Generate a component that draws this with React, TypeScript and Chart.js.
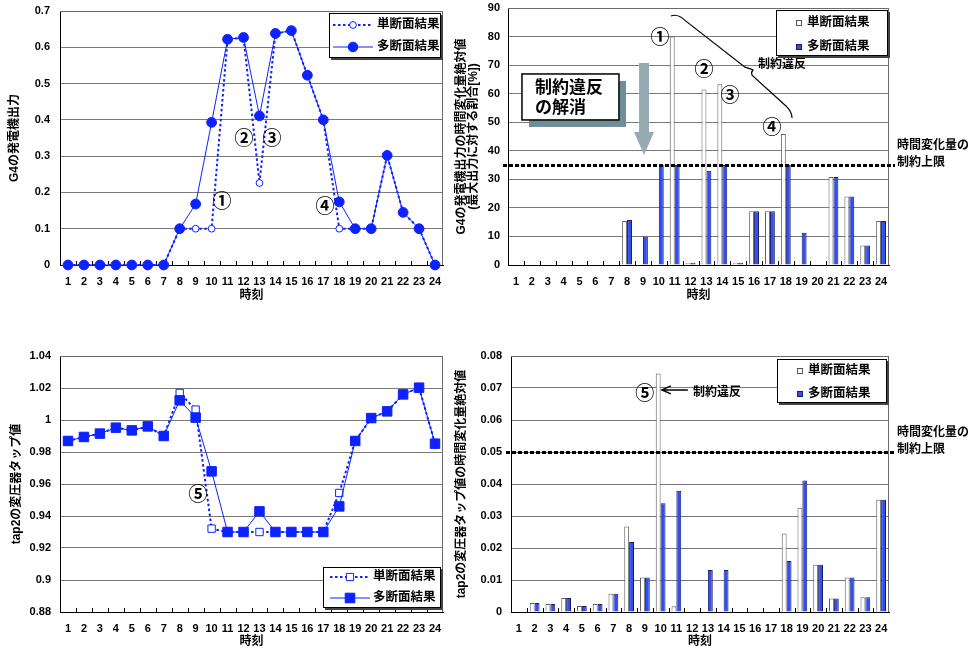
import React, { useEffect, useRef } from 'react';
import { Chart, registerables } from 'chart.js';

Chart.register(...registerables);

// ---------------- data ----------------
const hours = ['1', '2', '3', '4', '5', '6', '7', '8', '9', '10', '11', '12', '13', '14', '15', '16', '17', '18', '19', '20', '21', '22', '23', '24'];
const seriesLabels = ['単断面結果', '多断面結果'];

// G4 generator output
const g4Single = [0, 0, 0, 0, 0, 0, 0, 0.1, 0.1, 0.1, 0.622, 0.627, 0.226, 0.638, 0.646, 0.523, 0.4, 0.1, 0.1, 0.1, 0.302, 0.145, 0.1, 0];
const g4Multi = [0, 0, 0, 0, 0, 0, 0, 0.1, 0.168, 0.393, 0.622, 0.627, 0.411, 0.638, 0.646, 0.523, 0.4, 0.174, 0.1, 0.1, 0.302, 0.145, 0.1, 0];

// G4 hourly change (% of max output)
const g4ChangeSingle = [0, 0, 0, 0, 0, 0, 0, 15.4, 0, 0, 80, 0.8, 61.5, 63.3, 0.8, 18.8, 18.8, 45.9, 0, 0, 30.8, 24, 6.8, 15.4];
const g4ChangeMulti = [0, 0, 0, 0, 0, 0, 0, 15.8, 10, 35, 35, 0.8, 33, 35, 0.8, 18.8, 18.8, 35, 11.3, 0, 30.8, 24, 6.8, 15.4];

// tap2 transformer tap value
const tapSingle = [0.9869, 0.9894, 0.9915, 0.9952, 0.9935, 0.996, 0.990, 1.0169, 1.0065, 0.9321, 0.930, 0.930, 0.930, 0.930, 0.930, 0.930, 0.930, 0.9544, 0.9869, 1.0012, 1.0054, 1.016, 1.0202, 0.9852];
const tapMulti = [0.9869, 0.9894, 0.9915, 0.9952, 0.9935, 0.996, 0.990, 1.0123, 1.0015, 0.9679, 0.930, 0.930, 0.9429, 0.930, 0.930, 0.930, 0.930, 0.946, 0.9869, 1.0012, 1.0054, 1.016, 1.0202, 0.9852];

// tap2 hourly change
const tapChangeSingle = [0, 0.0028, 0.0025, 0.0044, 0.0019, 0.0025, 0.0057, 0.0267, 0.0108, 0.0745, 0.0018, 0, 0.0002, 0.0002, 0, 0, 0, 0.0245, 0.0326, 0.0148, 0.0042, 0.0108, 0.0046, 0.0351];
const tapChangeMulti = [0, 0.0028, 0.0025, 0.0044, 0.0019, 0.0025, 0.0057, 0.0219, 0.0108, 0.034, 0.0379, 0, 0.0131, 0.0131, 0, 0, 0, 0.0159, 0.0411, 0.0148, 0.0042, 0.0108, 0.0046, 0.0351];

const g4Limit = 35;
const tapLimit = 0.05;

const xTitle = '時刻';
const g4Title = 'G4の発電機出力';
const g4ChangeTitle = ['G4の発電機出力の時間変化量絶対値', '(最大出力に対する割合[%])'];
const tapTitle = 'tap2の変圧器タップ値';
const tapChangeTitle = 'tap2の変圧器タップ値の時間変化量絶対値';
const limitLabel = ['時間変化量の', '制約上限'];
const violationLabel = '制約違反';
const resolvedLabel = ['制約違反', 'の解消'];

// ---------------- styling ----------------
const FONT = "'Liberation Sans', 'Noto Sans CJK JP', sans-serif";
const CJK = "'Noto Sans CJK JP', 'Liberation Sans', sans-serif";
const BLUE = '#0d22ff';
const BAR_BLUE = '#2f4ff5';
const GRID = '#7a7a7a';

const tickFont = { family: FONT, size: 11, weight: 'bold' as const };
const yTitleFont = { family: FONT, size: 12, weight: 'bold' as const, lineHeight: 1.0 };
const xTitleFont = { family: FONT, size: 12, weight: 'bold' as const, lineHeight: 1.2 };

function xAxis(height: number, titlePad: number) {
  return {
    type: 'category',
    offset: true,
    grid: { display: true, drawOnChartArea: false, drawTicks: true, tickLength: 10, tickColor: 'transparent' },
    border: { display: true, color: '#000', width: 1 },
    ticks: { color: '#000', font: tickFont, padding: 0, maxRotation: 0, minRotation: 0, autoSkip: false },
    title: { display: true, text: xTitle, color: '#000', font: xTitleFont, padding: { top: 0, bottom: titlePad } },
    afterFit: (s: any) => { s.height = height; },
  };
}

function yAxis(min: number, max: number, step: number, width: number, title: any, titlePad: number, gap: number) {
  return {
    type: 'linear',
    min,
    max,
    grid: { color: GRID, lineWidth: 1, drawTicks: true, tickLength: gap, tickColor: 'transparent' },
    border: { display: true, color: '#000', width: 1 },
    ticks: {
      stepSize: step,
      color: '#000',
      font: tickFont,
      padding: 0,
      callback: (v: any) => String(Number(Number(v).toFixed(3))),
    },
    title: { display: true, text: title, color: '#000', font: yTitleFont, padding: { top: titlePad, bottom: 0 } },
    afterFit: (s: any) => { s.width = width; },
  };
}

// ---------------- drawing helpers ----------------
function at(chart: any, i: number, v: number) {
  return { x: chart.scales.x.getPixelForValue(i), y: chart.scales.y.getPixelForValue(v) };
}

function frameAndTicks(chart: any) {
  const { ctx, chartArea: a } = chart;
  ctx.save();
  ctx.strokeStyle = '#6a6a6a';
  ctx.lineWidth = 1;
  ctx.beginPath();
  ctx.moveTo(a.left, a.top + 0.5);
  ctx.lineTo(a.right - 0.5, a.top + 0.5);
  ctx.lineTo(a.right - 0.5, a.bottom);
  ctx.stroke();
  const n = chart.data.labels.length;
  const w = (a.right - a.left) / n;
  ctx.strokeStyle = '#000';
  ctx.beginPath();
  for (let k = 1; k < n; k++) {
    const x = Math.round(a.left + k * w) + 0.5;
    ctx.moveTo(x, a.bottom);
    ctx.lineTo(x, a.bottom - 4);
  }
  ctx.stroke();
  ctx.restore();
}

function circled(ctx: any, text: string, x: number, y: number) {
  ctx.save();
  ctx.font = `bold 19px ${CJK}`;
  ctx.fillStyle = '#000';
  ctx.textAlign = 'center';
  ctx.textBaseline = 'middle';
  ctx.fillText(text, x, y);
  ctx.restore();
}

function boldText(ctx: any, text: string, x: number, y: number, size = 12) {
  ctx.save();
  ctx.font = `bold ${size}px ${FONT}`;
  ctx.fillStyle = '#000';
  ctx.textAlign = 'left';
  ctx.textBaseline = 'middle';
  ctx.fillText(text, x, y);
  ctx.restore();
}

function limitLine(chart: any, value: number) {
  const { ctx, chartArea: a } = chart;
  const y = Math.round(chart.scales.y.getPixelForValue(value)) + 0.5;
  ctx.save();
  ctx.strokeStyle = '#000';
  ctx.lineWidth = 3;
  ctx.setLineDash([4, 2]);
  ctx.beginPath();
  ctx.moveTo(a.left - 5, y);
  ctx.lineTo(a.right + 6, y);
  ctx.stroke();
  ctx.restore();
  boldText(ctx, limitLabel[0], a.right + 8, y - 20, 12);
  boldText(ctx, limitLabel[1], a.right + 8, y - 3, 12);
}

function legendBox(ctx: any, x: number, y: number, w: number, h: number) {
  ctx.save();
  ctx.fillStyle = '#444';
  ctx.fillRect(x + 2, y + 2, w, h);
  ctx.fillStyle = '#fff';
  ctx.fillRect(x, y, w, h);
  ctx.strokeStyle = '#000';
  ctx.lineWidth = 1;
  ctx.strokeRect(x + 0.5, y + 0.5, w - 1, h - 1);
  ctx.restore();
}

function marker(ctx: any, shape: string, hollow: boolean, x: number, y: number, size: number) {
  ctx.save();
  ctx.beginPath();
  if (shape === 'circle') ctx.arc(x, y, size, 0, Math.PI * 2);
  else ctx.rect(x - size, y - size, size * 2, size * 2);
  ctx.fillStyle = hollow ? '#fff' : BLUE;
  ctx.fill();
  ctx.strokeStyle = BLUE;
  ctx.lineWidth = 1;
  ctx.stroke();
  ctx.restore();
}

function lineLegend(ctx: any, x: number, y: number, w: number, h: number, rows: number[], x0: number, x1: number, mx: number, tx: number, shape: string, sizes: number[]) {
  legendBox(ctx, x, y, w, h);
  for (let k = 0; k < 2; k++) {
    const yy = y + rows[k];
    ctx.save();
    ctx.strokeStyle = BLUE;
    ctx.lineWidth = k === 0 ? 2 : 1;
    ctx.setLineDash(k === 0 ? [2.5, 2.5] : []);
    ctx.beginPath();
    ctx.moveTo(x + x0, yy);
    ctx.lineTo(x + x1, yy);
    ctx.stroke();
    ctx.restore();
    marker(ctx, shape, k === 0, x + mx, yy, sizes[k]);
    boldText(ctx, seriesLabels[k], x + tx, yy, 12.5);
  }
}

function barLegend(ctx: any, x: number, y: number, w: number, h: number, rows: number[], mx: number, tx: number) {
  legendBox(ctx, x, y, w, h);
  for (let k = 0; k < 2; k++) {
    const yy = y + rows[k];
    ctx.save();
    ctx.fillStyle = k === 0 ? '#fff' : BAR_BLUE;
    ctx.fillRect(x + mx - 3, yy - 3, 6, 6);
    ctx.strokeStyle = k === 0 ? '#555' : '#1b1b5e';
    ctx.lineWidth = 1;
    ctx.strokeRect(x + mx - 3 + 0.5, yy - 3 + 0.5, 5, 5);
    ctx.restore();
    boldText(ctx, seriesLabels[k], x + tx, yy, 12.5);
  }
}

// ---------------- annotation specs ----------------
const g4Marks = [
  { t: '①', i: 9.65, v: 0.176 },
  { t: '②', i: 11.03, v: 0.35 },
  { t: '③', i: 12.79, v: 0.35 },
  { t: '④', i: 16.1, v: 0.163 },
];
const g4ChangeMarks = [
  { t: '①', i: 9.08, v: 79.8 },
  { t: '②', i: 11.85, v: 68.6 },
  { t: '③', i: 13.49, v: 59.5 },
  { t: '④', i: 16.13, v: 48.3 },
];
const bracePath = [
  [9.76, 87.2],
  [10.2, 88.2], [10.71, 85.4],
  [14.43, 69.3],
  [14.87, 68.6], [14.93, 68.3],
  [14.8, 67.6], [14.87, 66.5],
  [17.01, 55.7],
  [17.39, 53.6], [17.39, 51.5],
];

// ---------------- plugins ----------------
const g4LinePlugin = {
  id: 'g4Line',
  beforeDatasetsDraw: frameAndTicks,
  afterDraw(chart: any) {
    const { ctx, chartArea: a } = chart;
    g4Marks.forEach((m) => { const p = at(chart, m.i, m.v); circled(ctx, m.t, p.x, p.y); });
    lineLegend(ctx, a.right - 114, a.top + 2, 112, 45, [12, 34], 4, 44, 24, 48, 'circle', [3.4, 4.8]);
  },
};

const g4BarPlugin = {
  id: 'g4Bar',
  beforeDatasetsDraw: frameAndTicks,
  afterDraw(chart: any) {
    const { ctx, chartArea: a } = chart;
    limitLine(chart, g4Limit);
    g4ChangeMarks.forEach((m) => { const p = at(chart, m.i, m.v); circled(ctx, m.t, p.x, p.y); });

    // brace
    const P = bracePath.map(([i, v]) => at(chart, i, v));
    ctx.save();
    ctx.strokeStyle = '#000';
    ctx.lineWidth = 1.2;
    ctx.beginPath();
    ctx.moveTo(P[0].x, P[0].y);
    ctx.quadraticCurveTo(P[1].x, P[1].y, P[2].x, P[2].y);
    ctx.lineTo(P[3].x, P[3].y);
    ctx.quadraticCurveTo(P[4].x, P[4].y, P[5].x, P[5].y);
    ctx.quadraticCurveTo(P[6].x, P[6].y, P[7].x, P[7].y);
    ctx.lineTo(P[8].x, P[8].y);
    ctx.quadraticCurveTo(P[9].x, P[9].y, P[10].x, P[10].y);
    ctx.stroke();
    ctx.restore();
    const vp = at(chart, 15.25, 70);
    boldText(ctx, violationLabel, vp.x, vp.y, 12);

    // box "制約違反の解消"
    const tl = at(chart, 0.38, 66.9);
    const br = at(chart, 6.49, 50.8);
    ctx.save();
    ctx.fillStyle = '#6f8d98';
    ctx.fillRect(tl.x + 7, tl.y + 7, br.x - tl.x, br.y - tl.y);
    ctx.fillStyle = '#fff';
    ctx.fillRect(tl.x, tl.y, br.x - tl.x, br.y - tl.y);
    ctx.strokeStyle = '#000';
    ctx.lineWidth = 1.5;
    ctx.strokeRect(tl.x, tl.y, br.x - tl.x, br.y - tl.y);
    ctx.restore();
    boldText(ctx, resolvedLabel[0], tl.x + 13, tl.y + 14, 17);
    boldText(ctx, resolvedLabel[1], tl.x + 13, tl.y + 34, 17);

    // downward arrow
    const top = at(chart, 8.07, 70.7);
    const hs = at(chart, 8.07, 46.6);
    const tip = at(chart, 8.07, 38.5);
    ctx.save();
    ctx.fillStyle = '#97abb4';
    ctx.beginPath();
    ctx.moveTo(top.x - 5, top.y);
    ctx.lineTo(top.x + 5, top.y);
    ctx.lineTo(top.x + 5, hs.y);
    ctx.lineTo(top.x + 10, hs.y);
    ctx.lineTo(tip.x, tip.y);
    ctx.lineTo(top.x - 10, hs.y);
    ctx.lineTo(top.x - 5, hs.y);
    ctx.closePath();
    ctx.fill();
    ctx.restore();

    barLegend(ctx, a.right - 113, a.top + 2, 112, 46, [13, 37], 23, 31);
  },
};

const tapLinePlugin = {
  id: 'tapLine',
  beforeDatasetsDraw: frameAndTicks,
  afterDraw(chart: any) {
    const { ctx, chartArea: a } = chart;
    const p = at(chart, 8.15, 0.9537);
    circled(ctx, '⑤', p.x, p.y);
    lineLegend(ctx, a.right - 120, a.bottom - 45, 118, 41, [10, 31], 7, 47, 27, 50, 'rect', [3.6, 4.8]);
  },
};

const tapBarPlugin = {
  id: 'tapBar',
  beforeDatasetsDraw: frameAndTicks,
  afterDraw(chart: any) {
    const { ctx, chartArea: a } = chart;
    limitLine(chart, tapLimit);
    const p = at(chart, 8.0, 0.0684);
    circled(ctx, '⑤', p.x, p.y);
    const tail = at(chart, 10.73, 0.0694);
    const tip = at(chart, 9.08, 0.0694);
    ctx.save();
    ctx.strokeStyle = '#000';
    ctx.lineWidth = 1.5;
    ctx.beginPath();
    ctx.moveTo(tail.x, tail.y);
    ctx.lineTo(tip.x, tip.y);
    ctx.moveTo(tip.x + 9, tip.y - 4);
    ctx.lineTo(tip.x, tip.y);
    ctx.lineTo(tip.x + 9, tip.y + 4);
    ctx.stroke();
    ctx.restore();
    const tp = at(chart, 11.05, 0.0684);
    boldText(ctx, violationLabel, tp.x, tp.y, 12);
    barLegend(ctx, a.right - 112, a.top + 3, 110, 44, [12, 35], 23, 31);
  },
};

// ---------------- configs ----------------
const baseOptions = {
  responsive: false,
  maintainAspectRatio: false,
  animation: false,
  events: [],
  plugins: { legend: { display: false }, tooltip: { enabled: false } },
};

const whiteBar = { backgroundColor: '#fff', borderColor: '#606060', borderWidth: 1, categoryPercentage: 0.62, barPercentage: 1 };
const blueBar = { backgroundColor: BAR_BLUE, borderColor: '#1b1b5e', borderWidth: 1, categoryPercentage: 0.62, barPercentage: 1 };

function g4LineConfig(): any {
  return {
    type: 'line',
    data: {
      labels: hours,
      datasets: [
        { label: seriesLabels[0], data: g4Single, borderColor: BLUE, borderWidth: 2, borderDash: [2.5, 2.5], pointStyle: 'circle', pointRadius: 3.4, pointBorderWidth: 1, pointBackgroundColor: '#fff', pointBorderColor: BLUE, order: 1, clip: false, tension: 0 },
        { label: seriesLabels[1], data: g4Multi, borderColor: BLUE, borderWidth: 1, pointStyle: 'circle', pointRadius: 4.9, pointBorderWidth: 1, pointBackgroundColor: BLUE, pointBorderColor: BLUE, order: 0, clip: false, tension: 0 },
      ],
    },
    options: {
      ...baseOptions,
      layout: { padding: { left: 0, top: 11, right: 44, bottom: 5 } },
      scales: { x: xAxis(40, 2), y: yAxis(0, 0.7, 0.1, 60, g4Title, 9, 10) },
    },
    plugins: [g4LinePlugin],
  };
}

function g4BarConfig(): any {
  return {
    type: 'bar',
    data: {
      labels: hours,
      datasets: [
        { label: seriesLabels[0], data: g4ChangeSingle, ...whiteBar },
        { label: seriesLabels[1], data: g4ChangeMulti, ...blueBar },
      ],
    },
    options: {
      ...baseOptions,
      layout: { padding: { left: 0, top: 8, right: 86, bottom: 5 } },
      scales: { x: xAxis(40, 2), y: yAxis(0, 90, 10, 63, g4ChangeTitle, 11, 8) },
    },
    plugins: [g4BarPlugin],
  };
}

function tapLineConfig(): any {
  return {
    type: 'line',
    data: {
      labels: hours,
      datasets: [
        { label: seriesLabels[0], data: tapSingle, borderColor: BLUE, borderWidth: 2, borderDash: [2.5, 2.5], pointStyle: 'rect', pointRadius: 5.2, pointBorderWidth: 1, pointBackgroundColor: '#fff', pointBorderColor: BLUE, order: 1, clip: false, tension: 0 },
        { label: seriesLabels[1], data: tapMulti, borderColor: BLUE, borderWidth: 1, pointStyle: 'rect', pointRadius: 6.7, pointBorderWidth: 1, pointBackgroundColor: BLUE, pointBorderColor: BLUE, order: 0, clip: false, tension: 0 },
      ],
    },
    options: {
      ...baseOptions,
      layout: { padding: { left: 0, top: 36, right: 44, bottom: 0 } },
      scales: { x: xAxis(38, 1), y: yAxis(0.88, 1.04, 0.02, 60, tapTitle, 10.5, 9) },
    },
    plugins: [tapLinePlugin],
  };
}

function tapBarConfig(): any {
  return {
    type: 'bar',
    data: {
      labels: hours,
      datasets: [
        { label: seriesLabels[0], data: tapChangeSingle, ...whiteBar },
        { label: seriesLabels[1], data: tapChangeMulti, ...blueBar },
      ],
    },
    options: {
      ...baseOptions,
      layout: { padding: { left: 0, top: 36, right: 86, bottom: 0 } },
      scales: { x: xAxis(38, 1), y: yAxis(0, 0.08, 0.01, 66, tapChangeTitle, 11, 9) },
    },
    plugins: [tapBarPlugin],
  };
}

// ---------------- components ----------------
type Box = { left: number; top: number; width: number; height: number };

function ChartCanvas({ box, build }: { box: Box; build: () => any }) {
  const ref = useRef<HTMLCanvasElement | null>(null);
  useEffect(() => {
    if (!ref.current) return;
    const chart = new Chart(ref.current, build());
    return () => chart.destroy();
  }, [build]);
  return (
    <canvas
      ref={ref}
      width={box.width}
      height={box.height}
      style={{ position: 'absolute', left: box.left, top: box.top, width: box.width, height: box.height }}
    />
  );
}

export default function App() {
  return (
    <div style={{ position: 'absolute', left: 0, top: 0, width: 975, height: 650, background: '#fff', overflow: 'hidden' }}>
      <ChartCanvas box={{ left: 0, top: 0, width: 487, height: 310 }} build={g4LineConfig} />
      <ChartCanvas box={{ left: 445, top: 0, width: 530, height: 310 }} build={g4BarConfig} />
      <ChartCanvas box={{ left: 0, top: 320, width: 487, height: 330 }} build={tapLineConfig} />
      <ChartCanvas box={{ left: 445, top: 320, width: 530, height: 330 }} build={tapBarConfig} />
    </div>
  );
}
